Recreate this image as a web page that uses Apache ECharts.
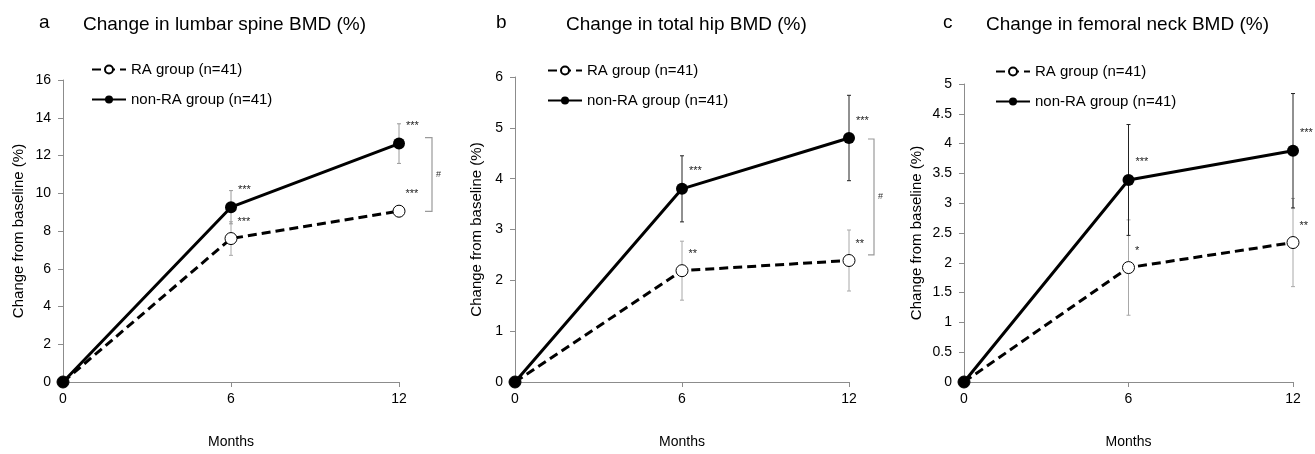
<!DOCTYPE html>
<html>
<head>
<meta charset="utf-8">
<title>Change in BMD</title>
<script src="https://cdn.jsdelivr.net/npm/echarts@6/dist/echarts.min.js"></script>
<style>
  html, body { margin: 0; padding: 0; background: #fff; }
  #chart { width: 1315px; height: 454px; }
</style>
</head>
<body>
<div id="chart"></div>
<script>
// months after baseline
const months = [0, 6, 12];

// a: lumbar spine
const lumbarRA = [0, 7.6, 9.05];
const lumbarRAErr = [0, 0.89, 0.3];
const lumbarNonRA = [0, 9.26, 12.63];
const lumbarNonRAErr = [0, 0.88, 1.05];
const lumbarRAStars = ['', '***', '***'];
const lumbarNonRAStars = ['', '***', '***'];
const lumbarBracket = [12, 12.95, 9.04];

// b: total hip
const hipRA = [0, 2.19, 2.39];
const hipRAErr = [0, 0.58, 0.6];
const hipNonRA = [0, 3.8, 4.8];
const hipNonRAErr = [0, 0.65, 0.84];
const hipRAStars = ['', '**', '**'];
const hipNonRAStars = ['', '***', '***'];
const hipBracket = [12, 4.78, 2.5];

// c: femoral neck
const neckRA = [0, 1.92, 2.34];
const neckRAErr = [0, 0.8, 0.74];
const neckNonRA = [0, 3.39, 3.88];
const neckNonRAErr = [0, 0.93, 0.96];
const neckRAStars = ['', '*', '**'];
const neckNonRAStars = ['', '***', '***'];

const raName = 'RA group (n=41)';
const nonRaName = 'non-RA group (n=41)';
const font = 'Liberation Sans, Arial, sans-serif';
const axisGray = '#8c8c8c';

const panels = [
  { letter: 'a', title: 'Change in lumbar spine BMD (%)', max: 16, step: 2,
    grid: { left: 63, top: 80, width: 336, height: 302 },
    letterX: 34, titleX: 78, legendX: 86, legendY: 57, nameGap: 37,
    ra: lumbarRA, raErr: lumbarRAErr, non: lumbarNonRA, nonErr: lumbarNonRAErr,
    raStars: lumbarRAStars, nonStars: lumbarNonRAStars,
    nonErrColor: '#9a9a9a', bracket: lumbarBracket, bracketOff: [26, 33] },
  { letter: 'b', title: 'Change in total hip BMD (%)', max: 6, step: 1,
    grid: { left: 515, top: 77, width: 334, height: 305 },
    letterX: 491, titleX: 561, legendX: 542, legendY: 58, nameGap: 31,
    ra: hipRA, raErr: hipRAErr, non: hipNonRA, nonErr: hipNonRAErr,
    raStars: hipRAStars, nonStars: hipNonRAStars,
    nonErrColor: '#222', bracket: hipBracket, bracketOff: [19, 25] },
  { letter: 'c', title: 'Change in femoral neck BMD (%)', max: 5, step: 0.5,
    grid: { left: 964, top: 84, width: 329, height: 299 },
    letterX: 938, titleX: 981, legendX: 990, legendY: 59, nameGap: 40,
    ra: neckRA, raErr: neckRAErr, non: neckNonRA, nonErr: neckNonRAErr,
    raStars: neckRAStars, nonStars: neckNonRAStars,
    nonErrColor: '#222', bracket: null }
];

function errorBars(color) {
  return function (params, api) {
    const x = api.value(0);
    const lo = api.coord([x, api.value(1)]);
    const hi = api.coord([x, api.value(2)]);
    const st = { stroke: color, lineWidth: 1 };
    return {
      type: 'group',
      children: [
        { type: 'line', shape: { x1: hi[0], y1: hi[1], x2: lo[0], y2: lo[1] }, style: st },
        { type: 'line', shape: { x1: hi[0] - 2, y1: hi[1], x2: hi[0] + 2, y2: hi[1] }, style: st },
        { type: 'line', shape: { x1: lo[0] - 2, y1: lo[1], x2: lo[0] + 2, y2: lo[1] }, style: st }
      ]
    };
  };
}

function bracketItem(off) {
  return function (params, api) {
    const x = api.value(0);
    const a = api.coord([x, api.value(1)]);
    const b = api.coord([x, api.value(2)]);
    const x1 = a[0] + off[0], x2 = a[0] + off[1];
    return {
      type: 'group',
      children: [
        { type: 'polyline', shape: { points: [[x1, a[1]], [x2, a[1]], [x2, b[1]], [x1, b[1]]] },
          style: { stroke: '#9a9a9a', lineWidth: 1.2, fill: null } },
        { type: 'text', x: x2 + 4, y: (a[1] + b[1]) / 2,
          style: { text: '#', fontSize: 9, fontFamily: font, fill: '#333', verticalAlign: 'middle' } }
      ]
    };
  };
}

function errData(vals, errs) {
  return months.map((m, k) => [m, vals[k] - errs[k], vals[k] + errs[k]]).filter((d, k) => errs[k] > 0);
}

const option = {
  animation: false,
  backgroundColor: '#fff',
  textStyle: { fontFamily: font },
  title: [], legend: [], grid: [], xAxis: [], yAxis: [], series: []
};

panels.forEach((p, i) => {
  option.title.push({ text: p.letter, left: p.letterX, top: 8,
    textStyle: { fontSize: 19, fontWeight: 'normal', color: '#000', fontFamily: font } });
  option.title.push({ text: p.title, left: p.titleX, top: 10,
    textStyle: { fontSize: 19, fontWeight: 'normal', color: '#000', fontFamily: font } });
  option.legend.push({
    left: p.legendX, top: p.legendY, orient: 'vertical',
    itemWidth: 34, itemHeight: 10, itemGap: 15,
    textStyle: { fontSize: 15, color: '#000', fontFamily: font },
    data: [raName, nonRaName]
  });
  option.grid.push(p.grid);
  option.xAxis.push({
    type: 'value', gridIndex: i, min: 0, max: 12, interval: 6,
    name: 'Months', nameLocation: 'middle', nameGap: 53,
    nameTextStyle: { fontSize: 14, color: '#000', fontFamily: font },
    axisLine: { lineStyle: { color: axisGray } },
    axisTick: { show: true, length: 5, lineStyle: { color: axisGray } },
    axisLabel: { fontSize: 14, color: '#000', margin: 10, fontFamily: font },
    splitLine: { show: false }
  });
  option.yAxis.push({
    type: 'value', gridIndex: i, min: 0, max: p.max, interval: p.step,
    name: 'Change from baseline (%)', nameLocation: 'middle', nameGap: p.nameGap,
    nameTextStyle: { fontSize: 15, color: '#000', fontFamily: font },
    axisLine: { show: true, lineStyle: { color: axisGray } },
    axisTick: { show: true, length: 5, lineStyle: { color: axisGray } },
    axisLabel: { fontSize: 14, color: '#000', margin: 12, fontFamily: font },
    splitLine: { show: false }
  });

  option.series.push({
    type: 'custom', xAxisIndex: i, yAxisIndex: i, z: 1, silent: true,
    renderItem: errorBars('#a8a8a8'), data: errData(p.ra, p.raErr)
  });
  option.series.push({
    type: 'custom', xAxisIndex: i, yAxisIndex: i, z: 1, silent: true,
    renderItem: errorBars(p.nonErrColor), data: errData(p.non, p.nonErr)
  });
  option.series.push({
    name: raName, type: 'line', xAxisIndex: i, yAxisIndex: i, z: 3, clip: false,
    data: months.map((m, k) => [m, p.ra[k]]),
    symbol: 'circle', symbolSize: 12,
    itemStyle: { color: '#fff', borderColor: '#000', borderWidth: 1 },
    lineStyle: { color: '#000', width: 3, type: [9, 5] },
    label: { show: true, position: [13, -16], fontSize: 11, color: '#222',
      formatter: (d) => p.raStars[d.dataIndex] },
    emphasis: { disabled: true }
  });
  option.series.push({
    name: nonRaName, type: 'line', xAxisIndex: i, yAxisIndex: i, z: 4, clip: false,
    data: months.map((m, k) => [m, p.non[k]]),
    symbol: 'circle', symbolSize: 12,
    itemStyle: { color: '#000' },
    lineStyle: { color: '#000', width: 3 },
    label: { show: true, position: [13, -17], fontSize: 11, color: '#222',
      formatter: (d) => p.nonStars[d.dataIndex] },
    emphasis: { disabled: true }
  });
  if (p.bracket) {
    option.series.push({
      type: 'custom', xAxisIndex: i, yAxisIndex: i, z: 2, silent: true,
      renderItem: bracketItem(p.bracketOff), data: [p.bracket]
    });
  }
});

const chart = echarts.init(document.getElementById('chart'));
chart.setOption(option);
</script>
</body>
</html>
